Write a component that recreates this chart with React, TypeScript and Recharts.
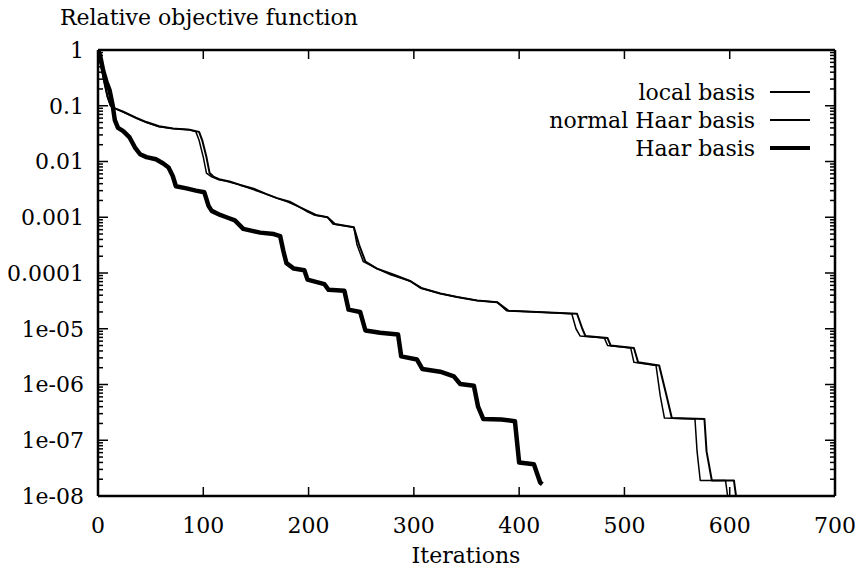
import React from "react";
import { LineChart, Line, XAxis, YAxis } from "recharts";

// axis ticks
const xTicks = [0, 100, 200, 300, 400, 500, 600, 700];
const yMajorTicks = [1, 0.1, 0.01, 0.001, 0.0001, 1e-5, 1e-6, 1e-7, 1e-8];
const yTickLabels = ["1", "0.1", "0.01", "0.001", "0.0001", "1e-05", "1e-06", "1e-07", "1e-08"];
const yMinorSteps = [2, 3, 4, 5, 6, 7, 8, 9];

// local basis (thin)
const localIter = [
  0, 3, 6, 9, 12, 16, 24, 36, 46, 58, 71, 87, 93, 96, 100, 103, 108, 115, 122, 135, 144, 160, 170,
  180, 192, 199, 205, 218, 223, 243, 246, 252, 265, 278, 297, 306, 325, 341, 360, 379, 388, 417,
  450, 454, 458, 481, 484, 506, 509, 530, 534, 538, 567, 569, 572, 596, 598,
];
const localValue = [
  1, 0.5, 0.25, 0.14, 0.1, 0.09, 0.077, 0.06, 0.05, 0.042, 0.039, 0.037, 0.034, 0.024, 0.012,
  0.0062, 0.0053, 0.0047, 0.0044, 0.0038, 0.0033, 0.0026, 0.0022, 0.0019, 0.0015, 0.00125, 0.0011,
  0.001, 0.00076, 0.00066, 0.00032, 0.00016, 0.00012, 9.3e-5, 7.1e-5, 5.4e-5, 4.3e-5, 3.7e-5,
  3.2e-5, 3.0e-5, 2.1e-5, 2.0e-5, 1.86e-5, 1.0e-5, 7.4e-6, 6.8e-6, 5.0e-6, 4.5e-6, 2.5e-6, 2.2e-6,
  6.3e-7, 2.5e-7, 2.4e-7, 6.3e-8, 1.9e-8, 1.9e-8, 1e-8,
];

// normal Haar basis (thin, slightly heavier)
const normalIter = [
  0, 3, 6, 9, 12, 16, 24, 36, 46, 58, 71, 87, 96, 99, 103, 106, 110, 115, 125, 135, 147, 160, 170,
  182, 192, 201, 207, 218, 225, 243, 248, 254, 265, 281, 297, 307, 325, 341, 360, 379, 390, 417,
  455, 460, 463, 484, 487, 509, 513, 533, 540, 545, 576, 578, 583, 604, 606,
];
const normalValue = [
  1, 0.55, 0.28, 0.15, 0.1, 0.09, 0.078, 0.061, 0.051, 0.043, 0.039, 0.037, 0.034, 0.024, 0.012,
  0.0062, 0.0053, 0.0048, 0.0044, 0.0038, 0.0033, 0.0026, 0.0022, 0.0019, 0.0015, 0.00125, 0.0011,
  0.001, 0.00076, 0.00066, 0.00032, 0.00016, 0.00012, 9.3e-5, 7.1e-5, 5.4e-5, 4.3e-5, 3.7e-5,
  3.2e-5, 3.0e-5, 2.1e-5, 2.0e-5, 1.86e-5, 1.0e-5, 7.4e-6, 6.8e-6, 5.0e-6, 4.5e-6, 2.5e-6, 2.2e-6,
  6.3e-7, 2.5e-7, 2.4e-7, 6.3e-8, 1.9e-8, 1.9e-8, 1e-8,
];

// Haar basis (thick)
const haarIter = [
  0, 2, 5, 8, 11, 14, 16, 19, 24, 30, 35, 40, 46, 55, 62, 67, 71, 74, 84, 93, 101, 105, 108, 116,
  122, 130, 138, 154, 167, 173, 176, 179, 186, 196, 199, 215, 219, 234, 238, 249, 254, 268, 285,
  288, 303, 308, 325, 338, 344, 357, 361, 366, 383, 396, 400, 414, 420, 422,
];
const haarValue = [
  1, 0.8, 0.42, 0.27, 0.19, 0.1, 0.055, 0.04, 0.035, 0.027, 0.018, 0.0135, 0.012, 0.011, 0.0092,
  0.0078, 0.0055, 0.0036, 0.0033, 0.003, 0.0028, 0.0016, 0.0013, 0.0011, 0.001, 0.00088, 0.00062,
  0.00053, 0.0005, 0.00046, 0.00025, 0.00015, 0.00012, 0.000112, 7.6e-5, 6.3e-5, 5.0e-5, 4.8e-5,
  2.2e-5, 2.0e-5, 9.3e-6, 8.5e-6, 7.9e-6, 3.2e-6, 2.8e-6, 1.9e-6, 1.7e-6, 1.4e-6, 1.02e-6, 9.5e-7,
  4.0e-7, 2.4e-7, 2.35e-7, 2.2e-7, 4.0e-8, 3.7e-8, 1.74e-8, 1.62e-8,
];

const toRows = (xs: number[], ys: number[]) => xs.map((x, i) => ({ x, y: ys[i] }));

const series = [
  { name: "local basis", data: toRows(localIter, localValue), width: 1.5 },
  { name: "normal Haar basis", data: toRows(normalIter, normalValue), width: 2 },
  { name: "Haar basis", data: toRows(haarIter, haarValue), width: 4.5 },
];

const yAllTicks = [
  ...yMajorTicks,
  ...yMajorTicks.slice(1).flatMap((m) => yMinorSteps.map((s) => m * s)),
];

const FONT = '"DejaVu Serif", serif';
const FS = 22;

const majorIndex = (v: number) => yMajorTicks.findIndex((m) => Math.abs(m - v) / m < 1e-6);

function LeftTick({ x, y, payload }: any) {
  const i = majorIndex(payload.value);
  return (
    <g>
      <line x1={x} x2={x + (i >= 0 ? 10 : 5)} y1={y} y2={y} stroke="#000" strokeWidth={1.5} />
      {i >= 0 && (
        <text x={x - 14} y={y} dy="0.36em" textAnchor="end" fontFamily={FONT} fontSize={FS} fill="#000">
          {yTickLabels[i]}
        </text>
      )}
    </g>
  );
}

function RightTick({ x, y, payload }: any) {
  const i = majorIndex(payload.value);
  return <line x1={x} x2={x - (i >= 0 ? 10 : 5)} y1={y} y2={y} stroke="#000" strokeWidth={1.5} />;
}

function BottomTick({ x, y, payload }: any) {
  return (
    <g>
      <line x1={x} x2={x} y1={y} y2={y - 9} stroke="#000" strokeWidth={1.5} />
      <text x={x} y={y + 29} dy="0.36em" textAnchor="middle" fontFamily={FONT} fontSize={FS} fill="#000">
        {payload.value}
      </text>
    </g>
  );
}

function TopTick({ x, y }: any) {
  return <line x1={x} x2={x} y1={y} y2={y + 9} stroke="#000" strokeWidth={1.5} />;
}

const axisLine = { stroke: "#000", strokeWidth: 2.5 };

export default function App() {
  return (
    <div style={{ position: "absolute", left: 0, top: 0, width: 860, height: 571, background: "#fff", fontFamily: FONT }}>
      <div style={{ position: "absolute", left: 60, top: 5, fontSize: FS, lineHeight: "26px", color: "#000" }}>
        Relative objective function
      </div>
      <LineChart width={860} height={571} margin={{ top: 0, right: 0, bottom: 0, left: 0 }}>
        <XAxis
          xAxisId="bottom"
          dataKey="x"
          type="number"
          domain={[0, 700]}
          ticks={xTicks}
          interval={0}
          allowDataOverflow
          height={75}
          tickSize={0}
          tickMargin={0}
          axisLine={axisLine}
          tickLine={false}
          tick={<BottomTick />}
        />
        <XAxis
          xAxisId="top"
          orientation="top"
          dataKey="x"
          type="number"
          domain={[0, 700]}
          ticks={xTicks}
          interval={0}
          allowDataOverflow
          height={50}
          tickSize={0}
          tickMargin={0}
          axisLine={axisLine}
          tickLine={false}
          tick={<TopTick />}
        />
        <YAxis
          yAxisId="left"
          scale="log"
          type="number"
          domain={[1e-8, 1]}
          ticks={yAllTicks}
          interval={0}
          allowDataOverflow
          width={98}
          tickSize={0}
          tickMargin={0}
          axisLine={axisLine}
          tickLine={false}
          tick={<LeftTick />}
        />
        <YAxis
          yAxisId="right"
          orientation="right"
          scale="log"
          type="number"
          domain={[1e-8, 1]}
          ticks={yAllTicks}
          interval={0}
          allowDataOverflow
          width={25}
          tickSize={0}
          tickMargin={0}
          axisLine={axisLine}
          tickLine={false}
          tick={<RightTick />}
        />
        {series.map((s) => (
          <Line
            key={s.name}
            xAxisId="bottom"
            yAxisId="left"
            data={s.data}
            dataKey="y"
            type="linear"
            stroke="#000"
            strokeWidth={s.width}
            strokeLinejoin="round"
            dot={false}
            activeDot={false}
            isAnimationActive={false}
          />
        ))}
      </LineChart>
      <div style={{ position: "absolute", right: 50, top: 78 }}>
        {series.map((s) => (
          <div key={s.name} style={{ height: 28, display: "flex", alignItems: "center", justifyContent: "flex-end", fontSize: FS }}>
            <span>{s.name}</span>
            <span style={{ display: "inline-block", width: 40, height: s.width, background: "#000", marginLeft: 15 }} />
          </div>
        ))}
      </div>
      <div style={{ position: "absolute", left: 366, width: 200, top: 543, textAlign: "center", fontSize: FS, lineHeight: "26px" }}>
        Iterations
      </div>
    </div>
  );
}
